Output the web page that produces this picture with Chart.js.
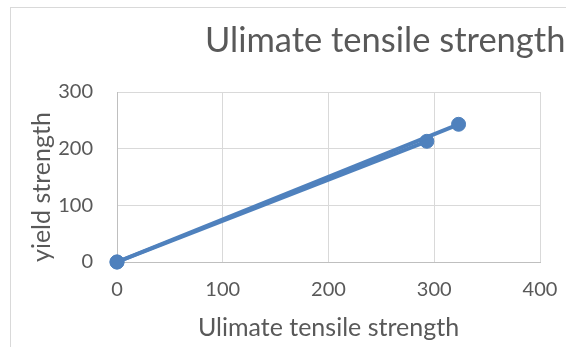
<!DOCTYPE html>
<html>
<head>
<meta charset="utf-8">
<script src="https://cdn.jsdelivr.net/npm/chart.js@4"></script>
<style>
  html, body { margin: 0; padding: 0; background: #fff; overflow: hidden; }
  .wrap { position: relative; width: 566px; height: 347px; }
  .frame { position: absolute; left: 10px; top: 7px; width: 620px; height: 400px; border: 1px solid #d9d9d9; }
  #myChart { position: absolute; left: 0; top: 0; }
</style>
</head>
<body>
<div class="wrap">
  <div class="frame"></div>
  <canvas id="myChart" width="566" height="347"></canvas>
</div>
<script>
const chartTitle = 'Ulimate tensile strength';
const xTitle = 'Ulimate tensile strength';
const yTitle = 'yield strength';

// two series, both starting at the origin
const uts1 = [0, 323];
const ys1 = [0, 243];
const uts2 = [0, 293];
const ys2 = [0, 213];

const xTicks = [0, 100, 200, 300, 400];
const yTicks = [0, 100, 200, 300];

const blue = '#4f81bd';
const textGrey = '#595959';
const fontName = 'Lato, "Open Sans", sans-serif';

function toPoints(xs, ys) {
  return xs.map((x, i) => ({ x: x, y: ys[i] }));
}

function makeSet(xs, ys) {
  return {
    data: toPoints(xs, ys),
    showLine: true,
    clip: false,
    borderColor: blue,
    backgroundColor: blue,
    borderWidth: 4,
    pointRadius: 7,
    pointBorderWidth: 1,
    pointHoverRadius: 7
  };
}

// title sits off to the right, so draw it by hand
const titlePlugin = {
  id: 'sideTitle',
  afterDraw(chart) {
    const c = chart.ctx;
    c.save();
    c.font = '34.5px ' + fontName;
    c.fillStyle = textGrey;
    c.textAlign = 'left';
    c.textBaseline = 'alphabetic';
    c.fillText(chartTitle, 205, 52);
    c.restore();
  }
};

const ctx = document.querySelector('#myChart');
new Chart(ctx, {
  type: 'scatter',
  data: {
    datasets: [makeSet(uts1, ys1), makeSet(uts2, ys2)]
  },
  plugins: [titlePlugin],
  options: {
    responsive: false,
    animation: false,
    layout: { padding: { left: 0, top: 92, right: 0, bottom: 0 } },
    plugins: { legend: { display: false }, tooltip: { enabled: false } },
    scales: {
      x: {
        type: 'linear',
        min: xTicks[0],
        max: xTicks[xTicks.length - 1],
        afterBuildTicks: (axis) => { axis.ticks = xTicks.map((v) => ({ value: v })); },
        afterFit: (axis) => {
          axis.height = 85;
          axis.paddingRight = 26;
        },
        grid: { color: '#d9d9d9', drawTicks: false },
        border: { color: '#bfbfbf' },
        ticks: { color: textGrey, font: { family: fontName, size: 20 }, padding: 16 },
        title: { display: true, text: xTitle, color: textGrey, font: { family: fontName, size: 25 }, padding: { top: 0, bottom: 4 } }
      },
      y: {
        type: 'linear',
        min: yTicks[0],
        max: yTicks[yTicks.length - 1],
        afterBuildTicks: (axis) => { axis.ticks = yTicks.map((v) => ({ value: v })); },
        afterFit: (axis) => { axis.width = 117; },
        grid: { color: '#d9d9d9', drawTicks: false },
        border: { color: '#bfbfbf' },
        ticks: { color: textGrey, font: { family: fontName, size: 20 }, padding: 24 },
        title: { display: true, text: yTitle, align: 'start', color: textGrey, font: { family: fontName, size: 25 }, padding: { top: 27, bottom: 0 } }
      }
    }
  }
});
</script>
</body>
</html>
